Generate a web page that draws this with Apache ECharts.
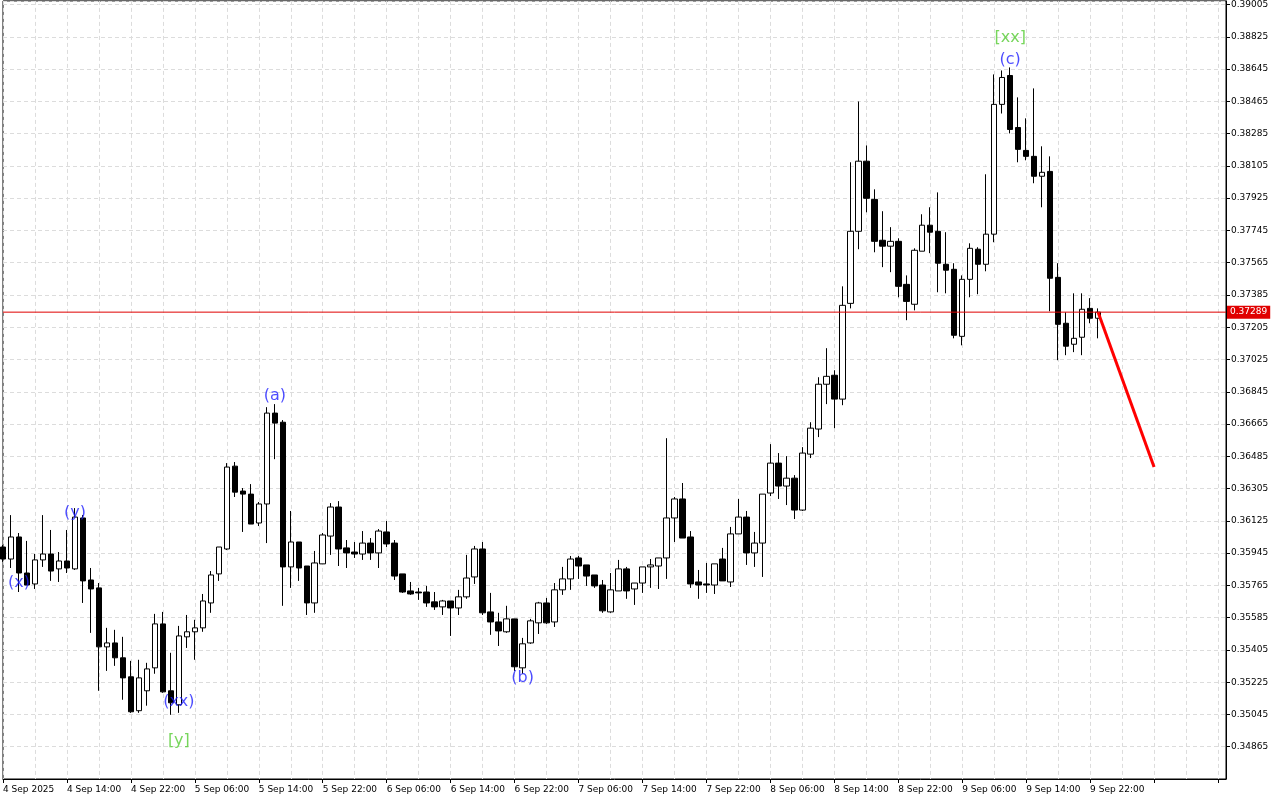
<!DOCTYPE html>
<html>
<head>
<meta charset="utf-8">
<script src="https://cdn.jsdelivr.net/npm/echarts@6/dist/echarts.min.js"></script>
<style>
  html, body { margin: 0; padding: 0; background: #fff; }
  #chart { width: 1280px; height: 800px; }
</style>
</head>
<body>
<div id="chart"></div>
<script>
// hourly candles, first bar 4 Sep 2025 06:00
const startTime = Date.UTC(2025, 8, 4, 6);
const totalSlots = 154;

// [open, close, low, high]
const candles = [
  [0.35979,0.35912,0.35896,0.35990],[0.35912,0.36035,0.35862,0.36157],[0.36035,0.35834,0.35728,0.36057],
  [0.35834,0.35767,0.35767,0.36013],[0.35773,0.35907,0.35745,0.35940],[0.35907,0.35940,0.35868,0.36157],
  [0.35940,0.35845,0.35790,0.36074],[0.35857,0.35901,0.35784,0.35951],[0.35901,0.35862,0.35834,0.36074],
  [0.35857,0.36146,0.35851,0.36196],[0.36141,0.35790,0.35667,0.36157],[0.35795,0.35745,0.35500,0.35862],
  [0.35751,0.35422,0.35177,0.35778],[0.35422,0.35444,0.35288,0.35528],[0.35444,0.35361,0.35316,0.35517],
  [0.35361,0.35249,0.35127,0.35478],[0.35255,0.35060,0.35054,0.35344],[0.35066,0.35249,0.35054,0.35350],
  [0.35177,0.35299,0.35094,0.35333],[0.35305,0.35550,0.35272,0.35606],[0.35550,0.35171,0.35166,0.35617],
  [0.35177,0.35110,0.35043,0.35389],[0.35099,0.35483,0.35054,0.35539],[0.35478,0.35506,0.35416,0.35600],
  [0.35506,0.35528,0.35350,0.35573],[0.35528,0.35678,0.35506,0.35717],[0.35667,0.35823,0.35612,0.35845],
  [0.35829,0.35979,0.35790,0.35979],[0.35968,0.36425,0.35962,0.36447],[0.36430,0.36285,0.36258,0.36453],
  [0.36291,0.36274,0.36063,0.36308],[0.36274,0.36107,0.36107,0.36330],[0.36113,0.36219,0.36096,0.36230],
  [0.36219,0.36726,0.36001,0.36759],[0.36726,0.36670,0.36469,0.36776],[0.36675,0.35868,0.35651,0.36687],
  [0.35868,0.36007,0.35751,0.36180],[0.36007,0.35862,0.35790,0.36007],[0.35873,0.35667,0.35600,0.35873],
  [0.35667,0.35890,0.35612,0.35957],[0.35885,0.36046,0.35885,0.36057],[0.36040,0.36202,0.35935,0.36224],
  [0.36202,0.35968,0.35873,0.36235],[0.35974,0.35946,0.35862,0.36018],[0.35951,0.35940,0.35918,0.36007],
  [0.35940,0.36001,0.35907,0.36068],[0.36001,0.35946,0.35907,0.36029],[0.35946,0.36068,0.35862,0.36079],
  [0.36063,0.35996,0.35979,0.36124],[0.36001,0.35817,0.35795,0.36018],[0.35829,0.35728,0.35723,0.35829],
  [0.35734,0.35717,0.35712,0.35784],[0.35728,0.35723,0.35684,0.35751],[0.35728,0.35667,0.35645,0.35762],
  [0.35673,0.35645,0.35628,0.35728],[0.35645,0.35678,0.35600,0.35684],[0.35678,0.35639,0.35483,0.35678],
  [0.35639,0.35701,0.35600,0.35740],[0.35701,0.35806,0.35690,0.35935],[0.35812,0.35968,0.35773,0.35985],
  [0.35968,0.35612,0.35600,0.36007],[0.35617,0.35561,0.35489,0.35723],[0.35561,0.35511,0.35427,0.35612],
  [0.35506,0.35578,0.35500,0.35651],[0.35578,0.35311,0.35288,0.35578],[0.35305,0.35439,0.35272,0.35472],
  [0.35444,0.35567,0.35439,0.35578],[0.35556,0.35667,0.35494,0.35673],[0.35667,0.35556,0.35550,0.35695],
  [0.35561,0.35740,0.35533,0.35778],[0.35740,0.35801,0.35712,0.35868],[0.35801,0.35912,0.35740,0.35929],
  [0.35918,0.35873,0.35801,0.35929],[0.35879,0.35817,0.35762,0.35879],[0.35823,0.35762,0.35751,0.35823],
  [0.35767,0.35623,0.35612,0.35795],[0.35617,0.35740,0.35612,0.35834],[0.35734,0.35857,0.35734,0.35907],
  [0.35857,0.35734,0.35690,0.35868],[0.35745,0.35778,0.35656,0.35778],[0.35778,0.35868,0.35723,0.35868],
  [0.35868,0.35879,0.35751,0.35912],[0.35873,0.35918,0.35745,0.35918],[0.35918,0.36141,0.35801,0.36586],
  [0.36141,0.36247,0.36007,0.36258],[0.36247,0.36029,0.36029,0.36336],[0.36035,0.35773,0.35751,0.36068],
  [0.35784,0.35767,0.35690,0.35851],[0.35773,0.35767,0.35723,0.35890],[0.35767,0.35885,0.35717,0.35885],
  [0.35912,0.35790,0.35790,0.35974],[0.35784,0.36052,0.35756,0.36091],[0.36052,0.36146,0.36052,0.36247],
  [0.36146,0.35946,0.35879,0.36180],[0.35946,0.36001,0.35868,0.36063],[0.36001,0.36274,0.35812,0.36274],
  [0.36280,0.36447,0.36263,0.36553],[0.36447,0.36319,0.36247,0.36503],[0.36319,0.36363,0.36213,0.36486],
  [0.36363,0.36185,0.36135,0.36380],[0.36185,0.36503,0.36180,0.36536],[0.36497,0.36642,0.36475,0.36675],
  [0.36637,0.36887,0.36592,0.36926],[0.36887,0.36931,0.36776,0.37088],[0.36937,0.36804,0.36642,0.36965],
  [0.36804,0.37327,0.36770,0.37433],[0.37338,0.37740,0.37310,0.38125],[0.37740,0.38131,0.37640,0.38464],
  [0.38131,0.37924,0.37846,0.38219],[0.37918,0.37684,0.37623,0.37974],[0.37690,0.37657,0.37540,0.37852],
  [0.37657,0.37684,0.37512,0.37763],[0.37684,0.37433,0.37372,0.37701],[0.37444,0.37349,0.37244,0.37494],
  [0.37333,0.37634,0.37299,0.37645],[0.37629,0.37774,0.37629,0.37835],[0.37774,0.37735,0.37618,0.37874],
  [0.37740,0.37562,0.37400,0.37957],[0.37556,0.37523,0.37394,0.37735],[0.37528,0.37160,0.37143,0.37562],
  [0.37154,0.37472,0.37104,0.37494],[0.37472,0.37645,0.37372,0.37673],[0.37640,0.37556,0.37389,0.37651],
  [0.37556,0.37724,0.37517,0.38058],[0.37724,0.38448,0.37679,0.38615],[0.38448,0.38598,0.38397,0.38637],
  [0.38609,0.38308,0.38286,0.38654],[0.38319,0.38197,0.38125,0.38487],[0.38191,0.38158,0.38136,0.38370],
  [0.38158,0.38047,0.38008,0.38537],[0.38047,0.38069,0.37874,0.38214],[0.38074,0.37478,0.37294,0.38158],
  [0.37483,0.37221,0.37021,0.37562],[0.37227,0.37099,0.37049,0.37288],[0.37110,0.37143,0.37066,0.37394],
  [0.37149,0.37305,0.37049,0.37394],[0.37310,0.37255,0.37227,0.37367],[0.37255,0.37289,0.37143,0.37310],
];

const currentPrice = 0.37289;
// forecast arrow: [category index, price]
const forecast = [[137, 0.37289], [144, 0.36425]];

// wave labels: [category index, price, text]
const waveBlue = [[2, 0.35778, '(x)'], [9, 0.36169, '(y)'], [22, 0.35116, '(xx)'],
  [34, 0.36820, '(a)'], [65, 0.35250, '(b)'], [126, 0.38699, '(c)']];
const waveGreen = [[22, 0.34898, '[y]'], [126, 0.38821, '[xx]']];

const months = ['Jan','Feb','Mar','Apr','May','Jun','Jul','Aug','Sep','Oct','Nov','Dec'];
const categories = [];
for (let i = 0; i < totalSlots; i++) {
  const d = new Date(startTime + i * 3600000);
  const hh = String(d.getUTCHours()).padStart(2, '0');
  categories.push(i === 0 ? '4 Sep 2025' : `${d.getUTCDate()} ${months[d.getUTCMonth()]} ${hh}:00`);
}
const lastBar = candles.length - 1;

const chart = echarts.init(document.getElementById('chart'));
const labelFont = { fontFamily: 'DejaVu Sans', fontSize: 9, color: '#000' };
const gridLine = { show: true, lineStyle: { color: '#dcdcdc', type: [4, 3] } };

chart.setOption({
  animation: false,
  backgroundColor: '#fff',
  grid: { left: 2, right: 54, top: 0, bottom: 21, show: true, borderColor: '#000', borderWidth: 1 },
  xAxis: {
    type: 'category',
    data: categories,
    boundaryGap: false,
    axisLine: { lineStyle: { color: '#000' } },
    axisTick: { interval: 7, length: 4, lineStyle: { color: '#000' } },
    axisLabel: { ...labelFont, interval: 7, align: 'left', margin: 6,
      formatter: (v, i) => (i <= lastBar ? v : '') },
    splitLine: { ...gridLine, interval: 3 },
  },
  yAxis: {
    type: 'value',
    position: 'right',
    min: 0.34685,
    max: 0.39025,
    interval: 0.0018,
    axisLine: { show: true, lineStyle: { color: '#000' } },
    axisTick: { show: true, length: 4, lineStyle: { color: '#000' } },
    axisLabel: { ...labelFont, showMinLabel: false, margin: 5, formatter: v => v.toFixed(5) },
    splitLine: gridLine,
  },
  series: [
    {
      type: 'candlestick',
      data: candles,
      barWidth: 6,
      itemStyle: { color: '#fff', color0: '#000', borderColor: '#000', borderColor0: '#000', borderWidth: 1 },
    },
    {
      // current price line
      type: 'line',
      data: [[0, currentPrice], [totalSlots - 1, currentPrice]],
      symbol: 'none',
      silent: true,
      lineStyle: { color: '#e00000', width: 1 },
      endLabel: {
        show: true, distance: 1, formatter: currentPrice.toFixed(5),
        backgroundColor: '#e00000', color: '#fff', fontFamily: 'DejaVu Sans', fontSize: 9, padding: [2, 3],
      },
    },
    {
      type: 'line',
      data: forecast,
      symbol: 'none',
      lineStyle: { color: '#ff0000', width: 3 },
    },
    {
      type: 'scatter',
      data: waveBlue,
      symbolSize: 0,
      label: { show: true, position: 'inside', formatter: p => p.data[2], color: '#1e1eff',
        fontFamily: 'DejaVu Sans', fontSize: 16 },
    },
    {
      type: 'scatter',
      data: waveGreen,
      symbolSize: 0,
      label: { show: true, position: 'inside', formatter: p => p.data[2], color: '#55cc33',
        fontFamily: 'DejaVu Sans', fontSize: 16 },
    },
  ],
});
</script>
</body>
</html>
